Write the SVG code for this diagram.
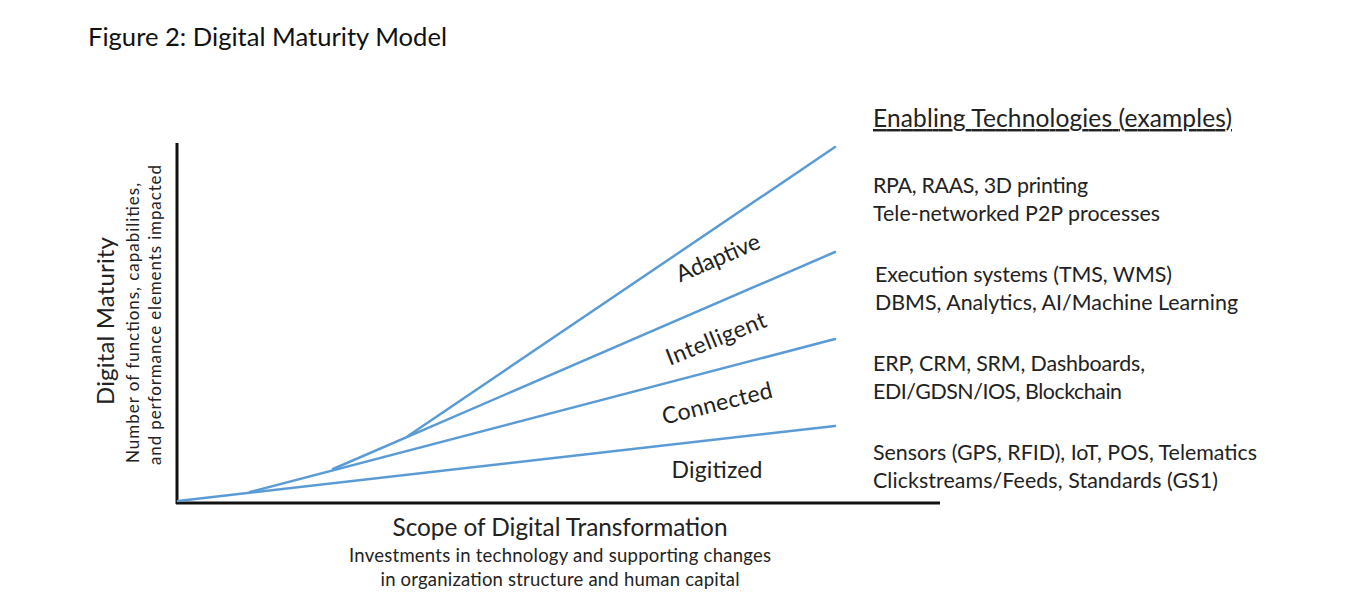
<svg xmlns="http://www.w3.org/2000/svg" width="1369" height="595" viewBox="0 0 1369 595">
<style>
.t{font-family:Lato,"Liberation Sans",sans-serif;fill:#222}
.title{font-family:Lato,"Liberation Sans",sans-serif;fill:#111;font-size:25.6px}
.lvl{font-size:23px}
.tech{font-size:21.4px}
.axis{stroke:#111;stroke-width:3;fill:none}
.curve{stroke:#5b9bd5;stroke-width:2.5;fill:none;stroke-linecap:round}
</style>
<rect width="1369" height="595" fill="#fff"/>
<text class="title" x="88" y="46">Figure 2: Digital Maturity Model</text>
<g id="axes">
<line class="axis" x1="177" y1="143" x2="177" y2="504"/>
<line class="axis" x1="176" y1="503" x2="940" y2="503"/>
</g>
<g id="connectors">
<polyline class="curve" points="178,501 835,426"/>
<polyline class="curve" points="250,492 835,339"/>
<polyline class="curve" points="333,469 835,252"/>
<polyline class="curve" points="408,436 835,147"/>
</g>
<g id="levels">
<g id="adaptive"><text class="t lvl" text-anchor="middle" textLength="89" transform="translate(721,265) rotate(-23)">Adaptive</text></g>
<g id="intelligent"><text class="t lvl" text-anchor="middle" textLength="106" transform="translate(719,346) rotate(-22)">Intelligent</text></g>
<g id="connected"><text class="t lvl" text-anchor="middle" textLength="113" transform="translate(719,411) rotate(-14)">Connected</text></g>
<g id="digitized"><text class="t lvl" text-anchor="middle" textLength="91" x="717" y="478">Digitized</text></g>
</g>
<g id="yaxis-label">
<text class="t" font-size="24" text-anchor="middle" textLength="168" transform="translate(114,321) rotate(-90)">Digital Maturity</text>
<text class="t" font-size="17" text-anchor="middle" textLength="280" transform="translate(139,323) rotate(-90)">Number of functions, capabilities,</text>
<text class="t" font-size="17" text-anchor="middle" textLength="300" transform="translate(161,315) rotate(-90)">and performance elements impacted</text>
</g>
<g id="xaxis-label">
<text class="t" font-size="24.4" text-anchor="middle" textLength="335" x="560" y="536">Scope of Digital Transformation</text>
<text class="t" font-size="18.5" text-anchor="middle" textLength="422" x="560" y="562">Investments in technology and supporting changes</text>
<text class="t" font-size="18.5" text-anchor="middle" textLength="359" x="560" y="586">in organization structure and human capital</text>
</g>
<g id="technologies">
<text class="t" font-size="24.5" x="873" y="127" textLength="359" text-decoration="underline">Enabling Technologies (examples)</text>
<text class="t tech" x="873" y="193" textLength="215">RPA, RAAS, 3D printing</text>
<text class="t tech" x="873" y="221" textLength="287">Tele-networked P2P processes</text>
<text class="t tech" x="875" y="282" textLength="297">Execution systems (TMS, WMS)</text>
<text class="t tech" x="875" y="310" textLength="363">DBMS, Analytics, AI/Machine Learning</text>
<text class="t tech" x="873" y="371" textLength="272">ERP, CRM, SRM, Dashboards,</text>
<text class="t tech" x="873" y="399" textLength="249">EDI/GDSN/IOS, Blockchain</text>
<text class="t tech" x="873" y="460" textLength="384">Sensors (GPS, RFID), IoT, POS, Telematics</text>
<text class="t tech" x="873" y="488" textLength="345">Clickstreams/Feeds, Standards (GS1)</text>
</g>
</svg>
